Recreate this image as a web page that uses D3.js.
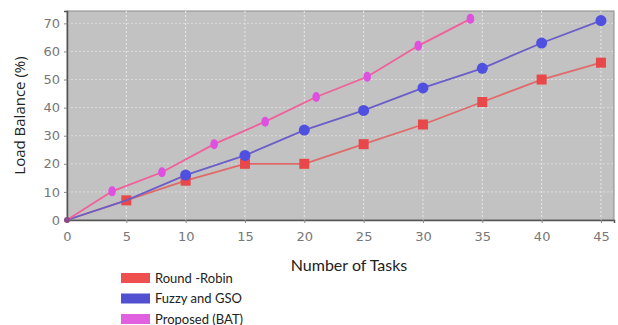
<!DOCTYPE html>
<html><head><meta charset="utf-8">
<script src="https://cdn.jsdelivr.net/npm/d3@7/dist/d3.min.js"></script>
<style>body{margin:0;background:#fff;}svg{display:block;}</style>
</head><body>
<svg id="chart" width="618" height="325"></svg>
<script>
const xTicks = [0,5,10,15,20,25,30,35,40,45];
const yTicks = [0,10,20,30,40,50,60,70];
const rrX = [0,5,10,15,20,25,30,35,40,45];
const rrY = [0,7,14,20,20,27,34,42,50,56];
const fzX = [0,5,10,15,20,25,30,35,40,45];
const fzY = [0,7,16,23,32,39,47,54,63,71];
const batX = [0,3.8,8,12.4,16.7,21,25.3,29.6,34];
const batY = [0,10.2,17,27,35,43.8,51,62,71.6];
const seriesNames = ["Round -Robin","Fuzzy and GSO","Proposed (BAT)"];

const svg = d3.select("#chart");
const L=67, R=614, T=11, B=220;
const x = d3.scaleLinear().domain([0,46.1]).range([L,R]);
const y = d3.scaleLinear().domain([0,74.4]).range([B,T]);

svg.append("rect").attr("x",L).attr("y",T).attr("width",R-L).attr("height",B-T)
  .attr("fill","#c2c2c2").attr("stroke","#8a8a8a").attr("stroke-width",1);

// grid
svg.append("g").selectAll("line").data(xTicks.slice(1)).join("line")
  .attr("x1",d=>x(d)).attr("x2",d=>x(d)).attr("y1",T).attr("y2",B)
  .attr("stroke","#e8e8e8").attr("stroke-dasharray","2,2").attr("stroke-width",1);
svg.append("g").selectAll("line").data(yTicks.slice(1)).join("line")
  .attr("x1",L).attr("x2",R).attr("y1",d=>y(d)).attr("y2",d=>y(d))
  .attr("stroke","#dcdcdc").attr("stroke-dasharray","2,2").attr("stroke-width",1);

// axes
const xAxis = svg.append("g").attr("transform",`translate(0,${B})`)
  .call(d3.axisBottom(x).tickValues(xTicks).tickSize(3).tickPadding(6));
const yAxis = svg.append("g").attr("transform",`translate(${L},0)`)
  .call(d3.axisLeft(y).tickValues(yTicks).tickSize(3).tickPadding(4));
[xAxis,yAxis].forEach(a=>{
  a.select(".domain").attr("stroke","#555").attr("stroke-width",1.5);
  a.selectAll(".tick line").attr("stroke","#888");
  a.selectAll("text").attr("fill","#777").attr("font-family","DejaVu Sans").attr("font-size",13);
});
xAxis.selectAll("text").attr("dy","0.9em");

const line = d3.line().x(d=>x(d[0])).y(d=>y(d[1]));
const zip = (a,b)=>a.map((v,i)=>[v,b[i]]);

const rr = zip(rrX,rrY), fz = zip(fzX,fzY), bat = zip(batX,batY);

svg.append("path").datum(rr).attr("d",line).attr("fill","none").attr("stroke","#e06a6a").attr("stroke-width",1.8);
svg.append("g").selectAll("rect").data(rr.filter(d=>d[0]>0)).join("rect")
  .attr("x",d=>x(d[0])-5).attr("y",d=>y(d[1])-5).attr("width",10).attr("height",10).attr("fill","#e8484a");

svg.append("path").datum(fz).attr("d",line).attr("fill","none").attr("stroke","#6a5ec8").attr("stroke-width",1.8);
svg.append("g").selectAll("circle").data(fz.filter(d=>d[0]>=10)).join("circle")
  .attr("cx",d=>x(d[0])).attr("cy",d=>y(d[1])).attr("r",5.5).attr("fill","#4f4fe0");

svg.append("path").datum(bat).attr("d",line).attr("fill","none").attr("stroke","#f0609a").attr("stroke-width",1.8);
svg.append("g").selectAll("ellipse").data(bat.filter(d=>d[0]>0)).join("ellipse")
  .attr("cx",d=>x(d[0])).attr("cy",d=>y(d[1])).attr("rx",3.8).attr("ry",5).attr("fill","#de50e0");

svg.append("circle").attr("cx",x(0)).attr("cy",y(0)).attr("r",3).attr("fill","#8a4a8a");

// titles
svg.append("text").attr("transform",`translate(25,${(T+B)/2}) rotate(-90)`).attr("text-anchor","middle")
  .attr("font-family","Open Sans").attr("font-size",15).attr("fill","#222").text("Load Balance (%)");
svg.append("text").attr("x",349).attr("y",271).attr("text-anchor","middle")
  .attr("font-family","Lato").attr("font-size",16).attr("fill","#222").text("Number of Tasks");

// legend
const legColors = ["#ee5050","#5050d0","#e060e0"];
const leg = svg.append("g");
seriesNames.forEach((n,i)=>{
  const yy = 278 + i*20.5;
  leg.append("rect").attr("x",121).attr("y",yy-5).attr("width",29).attr("height",10).attr("fill",legColors[i]);
  leg.append("text").attr("x",155).attr("y",yy+4.5).attr("font-family","Lato").attr("font-size",13)
    .attr("fill","#222").text(n);
});
</script>
</body></html>
